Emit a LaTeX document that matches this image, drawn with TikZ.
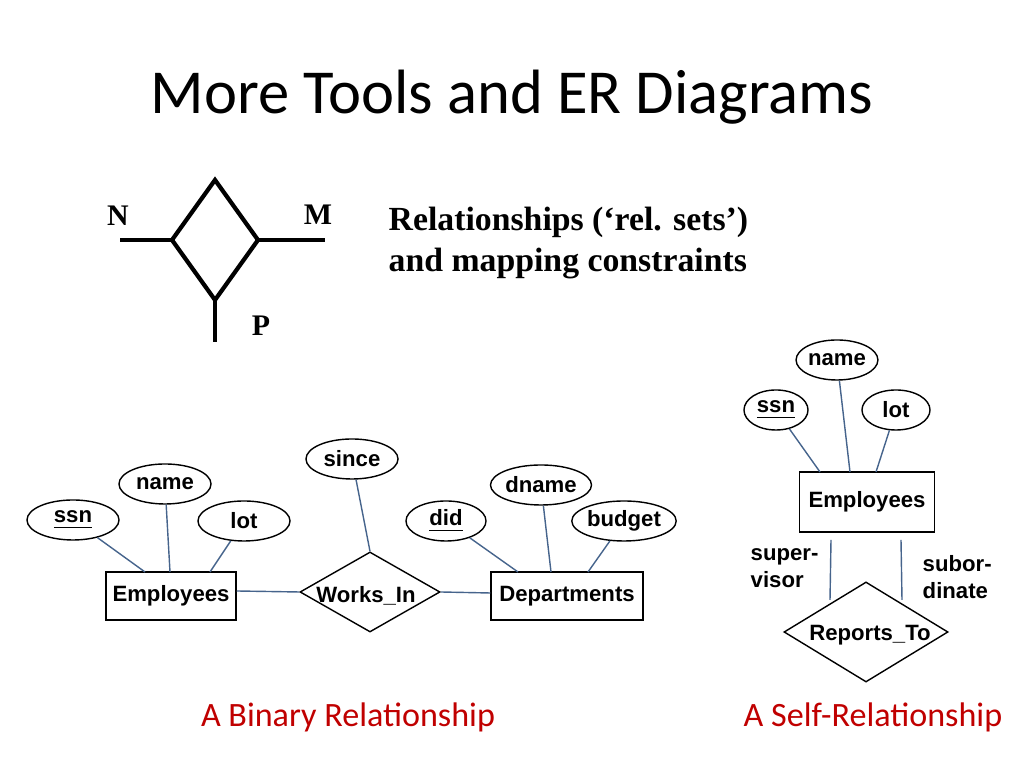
\documentclass[tikz,border=0pt]{standalone}
\usepackage{fontspec}
\setmainfont{Liberation Serif}
\newfontfamily\calfont{Carlito}
\newfontfamily\ars{Liberation Sans}
\usetikzlibrary{shapes.geometric}
\definecolor{ln}{RGB}{70,100,140}
\definecolor{capred}{RGB}{192,0,0}
\begin{document}
\begin{tikzpicture}[x=0.01cm,y=-0.01cm,
  attr/.style={ellipse,draw,thin,inner sep=0pt,minimum height=0.4cm,font=\ars\bfseries\fontsize{6.3pt}{7.5pt}\selectfont},
  ent/.style={rectangle,draw,thin,inner sep=0pt,font=\ars\bfseries\fontsize{6.3pt}{7.5pt}\selectfont},
  lbl/.style={font=\ars\bfseries\fontsize{6.3pt}{7.5pt}\selectfont,align=left,inner sep=0pt},
  con/.style={ln,thin},
  heavy/.style={line width=1.2pt}]
\useasboundingbox (0,0) rectangle (1024,768);
\node[font=\calfont\fontsize{17.8pt}{20pt}\selectfont] (title) at (512,97) {More Tools and ER Diagrams};
% generic diamond
\coordinate (dt) at (215,180); \coordinate (dl) at (172,240);
\coordinate (dr) at (258,240); \coordinate (db) at (215,300);
\coordinate (en) at (120,240); \coordinate (em) at (325,240); \coordinate (ep) at (215,342);
\draw[heavy,line join=miter] (dt) -- (dr) -- (db) -- (dl) -- cycle;
\draw[heavy] (dl) -- (en); \draw[heavy] (dr) -- (em); \draw[heavy] (db) -- (ep);
\node[font=\bfseries\fontsize{8.5pt}{10pt}\selectfont] (N) at (118,216) {N};
\node[font=\bfseries\fontsize{8.5pt}{10pt}\selectfont] (M) at (318,215) {M};
\node[font=\bfseries\fontsize{8.5pt}{10pt}\selectfont] (P) at (261,326) {P};
\node[font=\bfseries\fontsize{9.6pt}{11.6pt}\selectfont,align=left,anchor=west,inner sep=0pt] (rel) at (388,243) {Relationships (‘rel. sets’)\\and mapping constraints};
% binary
\node[attr,minimum width=0.92cm] (ssn) at (73,520) {\underline{ssn}};
\node[attr,minimum width=0.92cm] (name) at (165,484) {name};
\node[attr,minimum width=0.92cm] (lot) at (244,521) {lot};
\node[attr,minimum width=0.92cm] (since) at (352,459) {since};
\node[attr,minimum width=0.92cm] (dname) at (541,485) {dname};
\node[attr,minimum width=0.8cm] (did) at (446,521) {\underline{did}};
\node[attr,minimum width=0.92cm] (budget) at (624,521) {budget};
\node[ent,minimum width=1.3cm,minimum height=0.48cm] (emp) at (171,596) {Employees};
\node[ent,minimum width=1.52cm,minimum height=0.48cm] (dep) at (567,596) {Departments};
\node[diamond,draw,thin,aspect=1.75,minimum width=1.4cm,minimum height=0.8cm,inner sep=0pt] (wi) at (370,592) {};
\node[lbl] at (366,596) {Works\_In};
\draw[con] (ssn) -- (145,572);
\draw[con] (name) -- (170,572);
\draw[con] (lot) -- (210,572);
\draw[con] (emp.east|-0,591) -- (wi.west);
\draw[con] (since) -- (wi.north);
\draw[con] (wi.east) -- (dep.west|-0,593);
\draw[con] (did) -- (518,572);
\draw[con] (dname) -- (551,572);
\draw[con] (budget) -- (588,572);
% self
\node[attr,minimum width=0.64cm] (sname) at (837,360) {name};
\node[attr,minimum width=0.64cm] (sssn) at (776,410) {\underline{ssn}};
\node[attr,minimum width=0.68cm] (slot) at (896,410) {lot};
\node[ent,minimum width=1.35cm,minimum height=0.6cm] (semp) at (867,502) {Employees};
\node[diamond,draw,thin,aspect=1.64,minimum width=1.64cm,minimum height=1cm,inner sep=0pt] (rt) at (866,632) {};
\node[lbl] at (870,635) {Reports\_To};
\draw[con] (sssn) -- (820,472);
\draw[con] (sname) -- (850,472);
\draw[con] (slot) -- (876,472);
\coordinate (s1) at (831,540); \coordinate (s2) at (830,600);
\coordinate (s3) at (901,540); \coordinate (s4) at (902,600);
\draw[con] (s1) -- (s2); \draw[con] (s3) -- (s4);
\node[lbl,anchor=west] (sup) at (750,568) {super-\\visor};
\node[lbl,anchor=west] (sub) at (922,577) {subor-\\dinate};
% captions
\node[capred,font=\calfont\fontsize{9.7pt}{11pt}\selectfont] (c1) at (348,717) {A Binary Relationship};
\node[capred,font=\calfont\fontsize{9.7pt}{11pt}\selectfont] (c2) at (873,717) {A Self-Relationship};
\end{tikzpicture}
\end{document}
